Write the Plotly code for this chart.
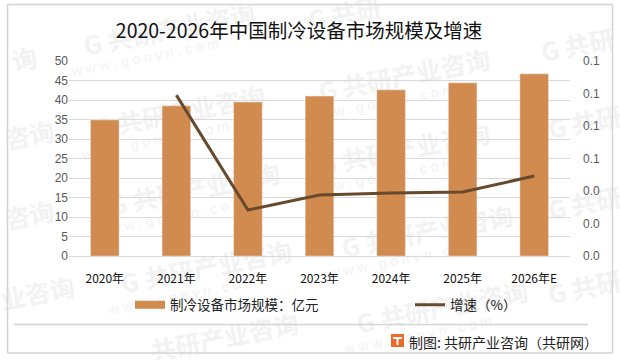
import plotly.graph_objects as go

categories = ["2020年", "2021年", "2022年", "2023年", "2024年", "2025年", "2026年E"]
market_size = [34.9, 38.5, 39.5, 41.0, 42.6, 44.4, 46.7]
growth = [None, 0.099, 0.0283, 0.0375, 0.0388, 0.0394, 0.0492]
left_ticks = [0, 5, 10, 15, 20, 25, 30, 35, 40, 45, 50]
right_ticks = [0, 0.02, 0.04, 0.06, 0.08, 0.10, 0.12]
title_text = "2020-2026年中国制冷设备市场规模及增速"
bar_name = "制冷设备市场规模：亿元"
line_name = "增速（%）"
source_text = "制图: 共研产业咨询（共研网）"
brand = "G 共研产业咨询"
site = "w w w . g o n y n . c o m"
watermark_centres = [(170, 32), (405, 78), (180, 115), (405, 152), (195, 192), (428, 234),
                     (207, 270), (443, 310)]
edge_marks = [("询", 25, 62), ("咨询", 30, 138), ("咨询", 30, 218), ("业咨询", 38, 296),
              ("G 共研", 578, 48), ("G 共研", 585, 125), ("G 共研", 585, 206), ("G 共研", 585, 290),
              ("G 共研", 345, 16), ("共研产业咨询", 225, 340)]

W, H = 620, 360
L, R, T, B = 69, 570, 61, 256
FONT = "Noto Sans CJK SC, Liberation Sans, sans-serif"
MARK = "#f2f2f2"
px = lambda x: (x - L) / (R - L)
py = lambda y: (B - y) / (B - T)

shapes = []
annotations = []


def mark_text(text, cx, cy, half_w, size, family):
    shapes.append(dict(type="rect", xref="paper", yref="paper", layer="below",
                       x0=px(cx - half_w), x1=px(cx + half_w), y0=py(cy + 10), y1=py(cy - 10),
                       line=dict(width=0), fillcolor="rgba(0,0,0,0)",
                       label=dict(text=text, textangle=-11, textposition="middle center",
                                  font=dict(size=size, color=MARK, family=family))))


for cx, cy in watermark_centres:
    mark_text("<b>" + brand + "</b>", cx, cy, 80, 25, FONT)
    mark_text(site, cx - 25, cy + 24, 70, 14, "Liberation Sans")
for text, cx, cy in edge_marks:
    mark_text("<b>" + text + "</b>", cx, cy, 30, 25, FONT)

# outer frame as four rules, plus the footer rule
frame_x0, frame_x1, frame_y0, frame_y1 = px(7.5), px(612.5), py(353), py(4.5)
for x0, y0, x1, y1 in [(frame_x0, frame_y0, frame_x1, frame_y0), (frame_x0, frame_y1, frame_x1, frame_y1),
                       (frame_x0, frame_y0, frame_x0, frame_y1), (frame_x1, frame_y0, frame_x1, frame_y1),
                       (px(14), py(324.5), px(588), py(324.5))]:
    shapes.append(dict(type="line", xref="paper", yref="paper", layer="above",
                       x0=x0, x1=x1, y0=y0, y1=y1, line=dict(color="#d4d4d4", width=1.5)))
# source logo
shapes.append(dict(type="rect", xref="paper", yref="paper", layer="above",
                   x0=px(391), x1=px(404), y0=py(347), y1=py(334),
                   line=dict(width=0), fillcolor="#ee6c2b"))
shapes.append(dict(type="path", xref="paper", yref="paper", layer="above",
                   path=f"M {px(393)} {py(337)} L {px(402)} {py(337)} L {px(402)} {py(339)} L {px(398.5)} {py(339)} "
                        f"L {px(398.5)} {py(345)} L {px(396.5)} {py(345)} L {px(396.5)} {py(339)} L {px(393)} {py(339)} Z",
                   line=dict(width=0), fillcolor="#ffffff"))

annotations.append(dict(text=source_text, xref="paper", yref="paper", x=px(407), y=py(341.5),
                        xanchor="left", yanchor="middle", showarrow=False,
                        font=dict(size=14, color="#222222", family=FONT)))

fig = go.Figure()
fig.add_bar(x=categories, y=market_size, name=bar_name, marker_color="#d18b4e",
            yaxis="y", width=0.4, showlegend=False)
# the wide legend key of the bars
fig.add_scatter(x=[None], y=[None], name=bar_name, mode="lines", yaxis="y", legend="legend",
                line=dict(color="#d18b4e", width=8), showlegend=True)
fig.add_scatter(x=categories, y=growth, name=line_name, mode="lines", yaxis="y2",
                legend="legend2", line=dict(color="#674a2d", width=3), showlegend=True)

fig.update_layout(
    width=W, height=H, margin=dict(l=L, r=W - R, t=T, b=H - B),
    showlegend=True,
    paper_bgcolor="white", plot_bgcolor="rgba(0,0,0,0)",
    title=dict(text=title_text, x=299 / W, xanchor="center", y=1 - 31 / H, yanchor="middle",
               font=dict(size=19.5, color="#111111", family=FONT)),
    xaxis=dict(showgrid=False, showline=True, linecolor="#d9d9d9", ticks="", ticklen=0,
               tickfont=dict(size=12, color="#111111", family=FONT), categoryorder="array",
               categoryarray=categories, ticklabelstandoff=12),
    yaxis=dict(range=[0, 50], tickvals=left_ticks, showgrid=True, gridcolor="#d9d9d9", gridwidth=1,
               zeroline=False, ticks="", tickfont=dict(size=12, color="#595959", family="Liberation Sans")),
    yaxis2=dict(range=[0, 0.12], tickvals=right_ticks, tickformat=".1f", overlaying="y", side="right",
                showgrid=False, zeroline=False, ticks="", ticklabelstandoff=12,
                tickfont=dict(size=12, color="#595959", family="Liberation Sans")),
    bargap=0.6,
    legend=dict(x=px(130), y=py(305), xanchor="left", yanchor="middle", bgcolor="rgba(0,0,0,0)",
                font=dict(size=13.5, color="#222222", family=FONT)),
    legend2=dict(x=px(410), y=py(305), xanchor="left", yanchor="middle", bgcolor="rgba(0,0,0,0)",
                 font=dict(size=13.5, color="#222222", family=FONT)),
    shapes=shapes, annotations=annotations,
)

fig.write_html("out.html", config={"displayModeBar": False}, post_script="document.body.style.margin='0';")
